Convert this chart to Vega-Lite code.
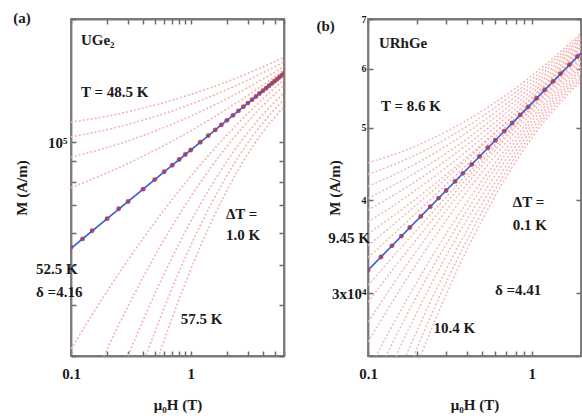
{
 "$schema": "https://vega.github.io/schema/vega-lite/v6.json",
 "padding": {"left": 12, "top": 10, "right": 0, "bottom": 0},
 "background": "white",
 "spacing": 84,
 "bounds": "flush",
 "config": {
  "view": {"stroke": "#7a7a7a", "strokeWidth": 1.8},
  "axis": {"grid": false, "domainColor": "#7a7a7a", "domainWidth": 1.8, "tickColor": "#6a6a6a", "tickWidth": 1.5, "tickSize": -5,
   "labelFont": "Liberation Serif", "labelFontSize": 15, "labelFontWeight": "bold", "labelColor": "#1a1a1a",
   "titleFont": "Liberation Serif", "titleFontSize": 15, "titleFontWeight": "bold", "titleColor": "#1a1a1a"}
 },
 "datasets": {
  "a_curves": [
   {"T": 48.5, "H": 0.1, "M": 111900}, {"T": 48.5, "H": 0.2, "M": 115700}, {"T": 48.5, "H": 0.4, "M": 121100}, {"T": 48.5, "H": 0.7, "M": 126600}, {"T": 48.5, "H": 1, "M": 130800}, {"T": 48.5, "H": 2, "M": 140500}, {"T": 48.5, "H": 4, "M": 152700}, {"T": 48.5, "H": 6, "M": 161100},
   {"T": 49.5, "H": 0.1, "M": 103000}, {"T": 49.5, "H": 0.2, "M": 107300}, {"T": 49.5, "H": 0.4, "M": 113200}, {"T": 49.5, "H": 0.7, "M": 119200}, {"T": 49.5, "H": 1, "M": 123800}, {"T": 49.5, "H": 2, "M": 134400}, {"T": 49.5, "H": 4, "M": 147800}, {"T": 49.5, "H": 6, "M": 157100},
   {"T": 50.5, "H": 0.1, "M": 91800}, {"T": 50.5, "H": 0.2, "M": 97000}, {"T": 50.5, "H": 0.4, "M": 103800}, {"T": 50.5, "H": 0.7, "M": 110700}, {"T": 50.5, "H": 1, "M": 115800}, {"T": 50.5, "H": 2, "M": 127700}, {"T": 50.5, "H": 4, "M": 142600}, {"T": 50.5, "H": 6, "M": 153100},
   {"T": 51.5, "H": 0.1, "M": 77400}, {"T": 51.5, "H": 0.2, "M": 84100}, {"T": 51.5, "H": 0.4, "M": 92400}, {"T": 51.5, "H": 0.7, "M": 100600}, {"T": 51.5, "H": 1, "M": 106600}, {"T": 51.5, "H": 2, "M": 120500}, {"T": 51.5, "H": 4, "M": 137900}, {"T": 51.5, "H": 6, "M": 150000},
   {"T": 53.5, "H": 0.1, "M": 31190}, {"T": 53.5, "H": 0.2, "M": 43190}, {"T": 53.5, "H": 0.4, "M": 58150}, {"T": 53.5, "H": 0.7, "M": 72440}, {"T": 53.5, "H": 1, "M": 82500}, {"T": 53.5, "H": 2, "M": 104040}, {"T": 53.5, "H": 4, "M": 127600}, {"T": 53.5, "H": 6, "M": 141850},
   {"T": 54.5, "H": 0.15, "M": 25960}, {"T": 54.5, "H": 0.188, "M": 30000}, {"T": 54.5, "H": 0.25, "M": 35730}, {"T": 54.5, "H": 0.4, "M": 46720}, {"T": 54.5, "H": 0.7, "M": 62320}, {"T": 54.5, "H": 1, "M": 73570}, {"T": 54.5, "H": 2, "M": 97610}, {"T": 54.5, "H": 4, "M": 122880}, {"T": 54.5, "H": 6, "M": 137240},
   {"T": 55.5, "H": 0.22, "M": 23860}, {"T": 55.5, "H": 0.299, "M": 30000}, {"T": 55.5, "H": 0.4, "M": 36720}, {"T": 55.5, "H": 0.55, "M": 45150}, {"T": 55.5, "H": 0.8, "M": 56560}, {"T": 55.5, "H": 1.2, "M": 70400}, {"T": 55.5, "H": 2, "M": 89670}, {"T": 55.5, "H": 3.5, "M": 111710}, {"T": 55.5, "H": 6, "M": 132030},
   {"T": 56.5, "H": 0.32, "M": 23820}, {"T": 56.5, "H": 0.422, "M": 30000}, {"T": 56.5, "H": 0.55, "M": 36880}, {"T": 56.5, "H": 0.75, "M": 46180}, {"T": 56.5, "H": 1, "M": 55920}, {"T": 56.5, "H": 1.5, "M": 71180}, {"T": 56.5, "H": 2.5, "M": 92100}, {"T": 56.5, "H": 4, "M": 111510}, {"T": 56.5, "H": 6, "M": 126980},
   {"T": 57.5, "H": 0.42, "M": 23900}, {"T": 57.5, "H": 0.541, "M": 30000}, {"T": 57.5, "H": 0.7, "M": 37200}, {"T": 57.5, "H": 1, "M": 48870}, {"T": 57.5, "H": 1.5, "M": 64200}, {"T": 57.5, "H": 2.5, "M": 85790}, {"T": 57.5, "H": 4, "M": 105970}, {"T": 57.5, "H": 6, "M": 122040}
  ],
  "a_crit": [
   {"H": 0.1, "M": 55300}, {"H": 0.125, "M": 58000}, {"H": 0.15, "M": 60700}, {"H": 0.2, "M": 65000}, {"H": 0.25, "M": 68700}, {"H": 0.3, "M": 71600}, {"H": 0.4, "M": 76750}, {"H": 0.5, "M": 80980}, {"H": 0.6, "M": 84620}, {"H": 0.7, "M": 87820}, {"H": 0.8, "M": 90680}, {"H": 0.9, "M": 93280}, {"H": 1, "M": 95680}, {"H": 1.2, "M": 99960}, {"H": 1.4, "M": 103730}, {"H": 1.6, "M": 107130}, {"H": 1.8, "M": 110200}, {"H": 2, "M": 113030}, {"H": 2.25, "M": 116270}, {"H": 2.5, "M": 119250}, {"H": 2.75, "M": 122000}, {"H": 3, "M": 124580}, {"H": 3.25, "M": 127010}, {"H": 3.5, "M": 129280}, {"H": 3.75, "M": 131440}, {"H": 4, "M": 133490}, {"H": 4.25, "M": 135470}, {"H": 4.5, "M": 137320}, {"H": 4.75, "M": 139140}, {"H": 5, "M": 140850}, {"H": 5.25, "M": 142510}, {"H": 5.5, "M": 144130}, {"H": 5.75, "M": 145660}, {"H": 6, "M": 147180}
  ],
  "a_fit": [{"H": 0.1, "M": 55000}, {"H": 6, "M": 147200}],
  "a_text": [
   {"label": "(a)", "H": 0.0329, "M": 201000},
   {"label": "UGe₂", "H": 0.121, "M": 177600},
   {"label": "T = 48.5 K", "H": 0.121, "M": 132900},
   {"label": "ΔT =", "H": 1.963, "M": 66800},
   {"label": "1.0 K", "H": 1.963, "M": 59300},
   {"label": "52.5 K", "H": 0.0511, "M": 48900},
   {"label": "δ =4.16", "H": 0.0511, "M": 43100},
   {"label": "57.5 K", "H": 0.826, "M": 37000}
  ],
  "b_curves": [
   {"T": 8.6, "H": 0.1, "M": 44890}, {"T": 8.6, "H": 0.178, "M": 46850}, {"T": 8.6, "H": 0.316, "M": 49700}, {"T": 8.6, "H": 0.562, "M": 53580}, {"T": 8.6, "H": 1, "M": 58720}, {"T": 8.6, "H": 2, "M": 67000},
   {"T": 8.7, "H": 0.1, "M": 43290}, {"T": 8.7, "H": 0.178, "M": 45540}, {"T": 8.7, "H": 0.316, "M": 48640}, {"T": 8.7, "H": 0.562, "M": 52740}, {"T": 8.7, "H": 1, "M": 58080}, {"T": 8.7, "H": 2, "M": 66540},
   {"T": 8.8, "H": 0.1, "M": 41730}, {"T": 8.8, "H": 0.178, "M": 44260}, {"T": 8.8, "H": 0.316, "M": 47600}, {"T": 8.8, "H": 0.562, "M": 51920}, {"T": 8.8, "H": 1, "M": 57440}, {"T": 8.8, "H": 2, "M": 66080},
   {"T": 8.9, "H": 0.1, "M": 40230}, {"T": 8.9, "H": 0.178, "M": 43010}, {"T": 8.9, "H": 0.316, "M": 46580}, {"T": 8.9, "H": 0.562, "M": 51100}, {"T": 8.9, "H": 1, "M": 56810}, {"T": 8.9, "H": 2, "M": 65630},
   {"T": 9.0, "H": 0.1, "M": 38780}, {"T": 9.0, "H": 0.178, "M": 41810}, {"T": 9.0, "H": 0.316, "M": 45600}, {"T": 9.0, "H": 0.562, "M": 50300}, {"T": 9.0, "H": 1, "M": 56180}, {"T": 9.0, "H": 2, "M": 65180},
   {"T": 9.1, "H": 0.1, "M": 37380}, {"T": 9.1, "H": 0.178, "M": 40630}, {"T": 9.1, "H": 0.316, "M": 44620}, {"T": 9.1, "H": 0.562, "M": 49520}, {"T": 9.1, "H": 1, "M": 55560}, {"T": 9.1, "H": 2, "M": 64730},
   {"T": 9.2, "H": 0.1, "M": 36040}, {"T": 9.2, "H": 0.178, "M": 39490}, {"T": 9.2, "H": 0.316, "M": 43670}, {"T": 9.2, "H": 0.562, "M": 48740}, {"T": 9.2, "H": 1, "M": 54940}, {"T": 9.2, "H": 2, "M": 64280},
   {"T": 9.3, "H": 0.1, "M": 34740}, {"T": 9.3, "H": 0.178, "M": 38640}, {"T": 9.3, "H": 0.316, "M": 43180}, {"T": 9.3, "H": 0.562, "M": 48530}, {"T": 9.3, "H": 1, "M": 54780}, {"T": 9.3, "H": 2, "M": 63840},
   {"T": 9.4, "H": 0.1, "M": 33500}, {"T": 9.4, "H": 0.178, "M": 37630}, {"T": 9.4, "H": 0.316, "M": 42410}, {"T": 9.4, "H": 0.562, "M": 47920}, {"T": 9.4, "H": 1, "M": 54330}, {"T": 9.4, "H": 2, "M": 63400},
   {"T": 9.5, "H": 0.1, "M": 30740}, {"T": 9.5, "H": 0.178, "M": 35510}, {"T": 9.5, "H": 0.316, "M": 40870}, {"T": 9.5, "H": 0.562, "M": 46870}, {"T": 9.5, "H": 1, "M": 53540}, {"T": 9.5, "H": 2, "M": 62520},
   {"T": 9.6, "H": 0.1, "M": 29190}, {"T": 9.6, "H": 0.178, "M": 34390}, {"T": 9.6, "H": 0.316, "M": 40150}, {"T": 9.6, "H": 0.562, "M": 46440}, {"T": 9.6, "H": 1, "M": 53220}, {"T": 9.6, "H": 2, "M": 61970},
   {"T": 9.7, "H": 0.1, "M": 27440}, {"T": 9.7, "H": 0.178, "M": 33080}, {"T": 9.7, "H": 0.316, "M": 39280}, {"T": 9.7, "H": 0.562, "M": 45930}, {"T": 9.7, "H": 1, "M": 52890}, {"T": 9.7, "H": 2, "M": 61430},
   {"T": 9.8, "H": 0.1, "M": 25800}, {"T": 9.8, "H": 0.178, "M": 31680}, {"T": 9.8, "H": 0.316, "M": 38170}, {"T": 9.8, "H": 0.562, "M": 45110}, {"T": 9.8, "H": 1, "M": 52300}, {"T": 9.8, "H": 2, "M": 60910},
   {"T": 9.9, "H": 0.1, "M": 23560}, {"T": 9.9, "H": 0.178, "M": 29760}, {"T": 9.9, "H": 0.316, "M": 36680}, {"T": 9.9, "H": 0.562, "M": 44060}, {"T": 9.9, "H": 1, "M": 51610}, {"T": 9.9, "H": 2, "M": 60380},
   {"T": 10.0, "H": 0.1, "M": 22030}, {"T": 10.0, "H": 0.178, "M": 28410}, {"T": 10.0, "H": 0.316, "M": 35560}, {"T": 10.0, "H": 0.562, "M": 43230}, {"T": 10.0, "H": 1, "M": 51010}, {"T": 10.0, "H": 2, "M": 59850},
   {"T": 10.1, "H": 0.1, "M": 20360}, {"T": 10.1, "H": 0.178, "M": 26900}, {"T": 10.1, "H": 0.316, "M": 34340}, {"T": 10.1, "H": 0.562, "M": 42300}, {"T": 10.1, "H": 1, "M": 50350}, {"T": 10.1, "H": 2, "M": 59330},
   {"T": 10.2, "H": 0.1259, "M": 21130}, {"T": 10.2, "H": 0.178, "M": 25270}, {"T": 10.2, "H": 0.316, "M": 32990}, {"T": 10.2, "H": 0.562, "M": 41330}, {"T": 10.2, "H": 1, "M": 49700}, {"T": 10.2, "H": 2, "M": 58820},
   {"T": 10.3, "H": 0.1413, "M": 20970}, {"T": 10.3, "H": 0.19, "M": 24700}, {"T": 10.3, "H": 0.316, "M": 31760}, {"T": 10.3, "H": 0.562, "M": 40410}, {"T": 10.3, "H": 1, "M": 49080}, {"T": 10.3, "H": 2, "M": 58310},
   {"T": 10.4, "H": 0.1585, "M": 21040}, {"T": 10.4, "H": 0.2094, "M": 24700}, {"T": 10.4, "H": 0.316, "M": 30620}, {"T": 10.4, "H": 0.562, "M": 39530}, {"T": 10.4, "H": 1, "M": 48460}, {"T": 10.4, "H": 2, "M": 57800}
  ],
  "b_crit": [
   {"H": 0.1, "M": 32200}, {"H": 0.12, "M": 33540}, {"H": 0.14, "M": 34720}, {"H": 0.16, "M": 35780}, {"H": 0.18, "M": 36740}, {"H": 0.21, "M": 38030}, {"H": 0.24, "M": 39190}, {"H": 0.27, "M": 40240}, {"H": 0.3, "M": 41200}, {"H": 0.34, "M": 42370}, {"H": 0.38, "M": 43440}, {"H": 0.43, "M": 44660}, {"H": 0.48, "M": 45780}, {"H": 0.54, "M": 47010}, {"H": 0.6, "M": 48130}, {"H": 0.68, "M": 49500}, {"H": 0.76, "M": 50750}, {"H": 0.85, "M": 52040}, {"H": 0.95, "M": 53350}, {"H": 1.07, "M": 54800}, {"H": 1.2, "M": 56220}, {"H": 1.35, "M": 57730}, {"H": 1.5, "M": 59110}, {"H": 1.7, "M": 60790}, {"H": 1.9, "M": 62330}
  ],
  "b_fit": [{"H": 0.1, "M": 32200}, {"H": 2, "M": 63000}],
  "b_text": [
   {"label": "(b)", "H": 0.0484, "M": 68500},
   {"label": "URhGe", "H": 0.1166, "M": 65000},
   {"label": "T = 8.6 K", "H": 0.1199, "M": 53530},
   {"label": "ΔT =", "H": 0.767, "M": 39800},
   {"label": "0.1 K", "H": 0.767, "M": 37000},
   {"label": "9.45 K", "H": 0.0572, "M": 35520},
   {"label": "δ =4.41", "H": 0.596, "M": 30280},
   {"label": "10.4 K", "H": 0.251, "M": 26900}
  ]
 },
 "hconcat": [
  {
   "width": 213, "height": 337,
   "layer": [
    {"data": {"name": "a_curves"},
     "mark": {"type": "line", "clip": true, "color": "#f5b3b3", "strokeWidth": 1.6, "strokeDash": [2, 2], "interpolate": "monotone"},
     "encoding": {
      "x": {"field": "H", "type": "quantitative", "scale": {"type": "log", "domain": [0.1, 6], "nice": false},
       "axis": {"orient": "bottom", "values": [0.1, 0.2, 0.3, 0.4, 0.5, 0.6, 0.7, 0.8, 0.9, 1, 2, 3, 4, 5, 6], "labelExpr": "datum.value == 0.1 ? '0.1' : (datum.value == 1 ? '1' : '')", "title": "μ₀H (T)", "titleY": 48, "titleBaseline": "middle", "labelPadding": 15, "labelFlush": false}},
      "y": {"field": "M", "type": "quantitative", "scale": {"type": "log", "domain": [30000, 200000], "nice": false},
       "axis": {"orient": "left", "values": [30000, 40000, 50000, 60000, 70000, 80000, 90000, 100000, 200000], "labelExpr": "datum.value == 100000 ? '10⁵' : ''", "title": "M (A/m)", "titleX": -50, "titleBaseline": "middle", "labelPadding": 9, "labelFlush": false}},
      "detail": {"field": "T", "type": "nominal"}
     }},
    {"data": {"name": "a_crit"},
     "mark": {"type": "point", "filled": true, "clip": true, "color": "#e8432e", "size": 24, "opacity": 1},
     "encoding": {
      "x": {"field": "H", "type": "quantitative", "scale": {"type": "log", "domain": [0.1, 6], "nice": false}, "axis": null},
      "y": {"field": "M", "type": "quantitative", "scale": {"type": "log", "domain": [30000, 200000], "nice": false}, "axis": null}
     }},
    {"data": {"name": "a_fit"},
     "mark": {"type": "line", "clip": true, "color": "#3b5bd6", "strokeWidth": 1.6},
     "encoding": {
      "x": {"field": "H", "type": "quantitative", "scale": {"type": "log", "domain": [0.1, 6], "nice": false},
       "axis": {"orient": "top", "values": [0.1, 0.2, 0.3, 0.4, 0.5, 0.6, 0.7, 0.8, 0.9, 1, 2, 3, 4, 5, 6], "labels": false, "title": null}},
      "y": {"field": "M", "type": "quantitative", "scale": {"type": "log", "domain": [30000, 200000], "nice": false},
       "axis": {"orient": "right", "values": [30000, 40000, 50000, 60000, 70000, 80000, 90000, 100000, 200000], "labels": false, "title": null}}
     }},
    {"data": {"name": "a_text"},
     "mark": {"type": "text", "align": "left", "baseline": "middle", "font": "Liberation Serif", "fontWeight": "bold", "fontSize": 15, "color": "#1a1a1a"},
     "encoding": {
      "x": {"field": "H", "type": "quantitative", "scale": {"type": "log", "domain": [0.1, 6], "nice": false}, "axis": null},
      "y": {"field": "M", "type": "quantitative", "scale": {"type": "log", "domain": [30000, 200000], "nice": false}, "axis": null},
      "text": {"field": "label"}
     }}
   ]
  },
  {
   "width": 213, "height": 337,
   "layer": [
    {"data": {"name": "b_curves"},
     "mark": {"type": "line", "clip": true, "color": "#f5b3b3", "strokeWidth": 1.4, "strokeDash": [2, 2], "interpolate": "monotone"},
     "encoding": {
      "x": {"field": "H", "type": "quantitative", "scale": {"type": "log", "domain": [0.1, 2], "nice": false},
       "axis": {"orient": "bottom", "values": [0.1, 0.2, 0.3, 0.4, 0.5, 0.6, 0.7, 0.8, 0.9, 1, 2], "labelExpr": "datum.value == 0.1 ? '0.1' : (datum.value == 1 ? '1' : '')", "title": "μ₀H (T)", "titleY": 48, "titleBaseline": "middle", "labelPadding": 15, "labelFlush": false}},
      "y": {"field": "M", "type": "quantitative", "scale": {"type": "log", "domain": [24700, 70000], "nice": false},
       "axis": {"orient": "left", "values": [30000, 40000, 50000, 60000, 70000], "labelExpr": "datum.value == 30000 ? '3x10⁴' : format(datum.value / 10000, 'd')", "labelFontSize": {"condition": {"test": "datum.value == 30000", "value": 15}, "value": 10}, "title": "M (A/m)", "titleX": -34, "titleBaseline": "middle", "labelPadding": 7, "labelFlush": false}},
      "detail": {"field": "T", "type": "nominal"}
     }},
    {"data": {"name": "b_crit"},
     "mark": {"type": "point", "filled": true, "clip": true, "color": "#e8432e", "size": 24, "opacity": 1},
     "encoding": {
      "x": {"field": "H", "type": "quantitative", "scale": {"type": "log", "domain": [0.1, 2], "nice": false}, "axis": null},
      "y": {"field": "M", "type": "quantitative", "scale": {"type": "log", "domain": [24700, 70000], "nice": false}, "axis": null}
     }},
    {"data": {"name": "b_fit"},
     "mark": {"type": "line", "clip": true, "color": "#3b5bd6", "strokeWidth": 1.6},
     "encoding": {
      "x": {"field": "H", "type": "quantitative", "scale": {"type": "log", "domain": [0.1, 2], "nice": false},
       "axis": {"orient": "top", "values": [0.1, 0.2, 0.3, 0.4, 0.5, 0.6, 0.7, 0.8, 0.9, 1, 2], "labels": false, "title": null}},
      "y": {"field": "M", "type": "quantitative", "scale": {"type": "log", "domain": [24700, 70000], "nice": false},
       "axis": {"orient": "right", "values": [30000, 40000, 50000, 60000, 70000], "labels": false, "title": null}}
     }},
    {"data": {"name": "b_text"},
     "mark": {"type": "text", "align": "left", "baseline": "middle", "font": "Liberation Serif", "fontWeight": "bold", "fontSize": 15, "color": "#1a1a1a"},
     "encoding": {
      "x": {"field": "H", "type": "quantitative", "scale": {"type": "log", "domain": [0.1, 2], "nice": false}, "axis": null},
      "y": {"field": "M", "type": "quantitative", "scale": {"type": "log", "domain": [24700, 70000], "nice": false}, "axis": null},
      "text": {"field": "label"}
     }}
   ]
  }
 ]
}
